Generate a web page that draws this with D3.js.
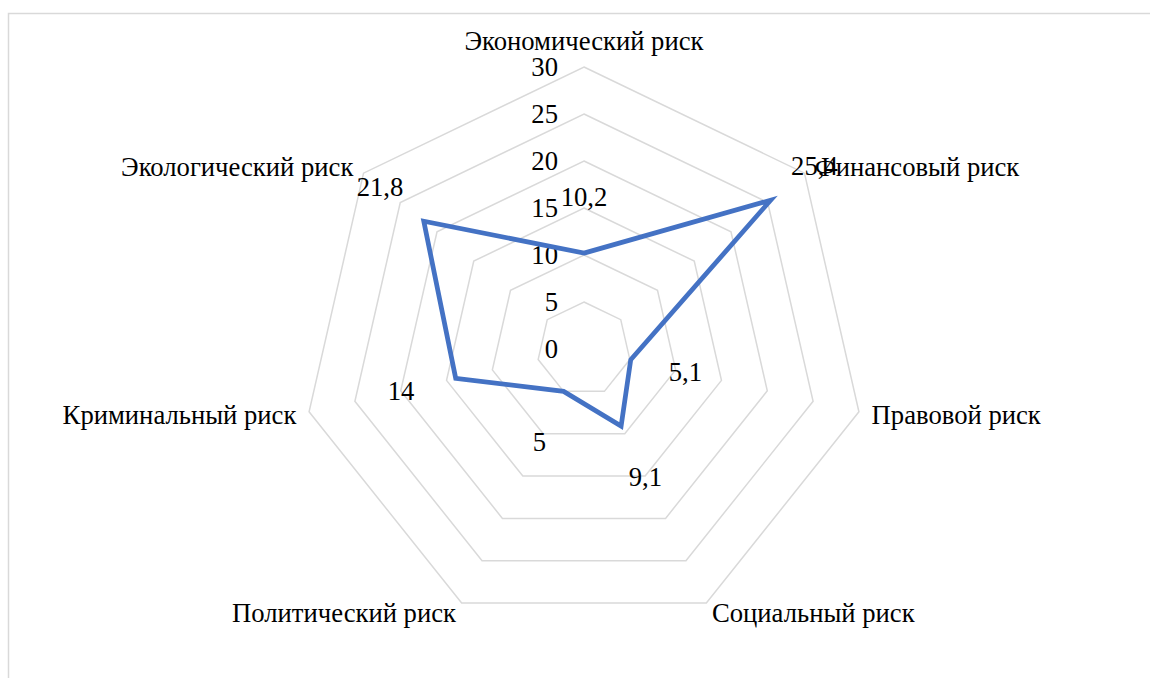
<!DOCTYPE html>
<html>
<head>
<meta charset="utf-8">
<script src="https://cdn.jsdelivr.net/npm/d3@7"></script>
<style>
  html, body { margin: 0; padding: 0; background: #fff; }
</style>
</head>
<body>
<svg id="chart" width="1150" height="678"></svg>
<script>
// Risk categories around the radar, clockwise from the top
const categories = [
  "Экономический риск",
  "Финансовый риск",
  "Правовой риск",
  "Социальный риск",
  "Политический риск",
  "Криминальный риск",
  "Экологический риск"
];
const values = [10.2, 25.4, 5.1, 9.1, 5, 14, 21.8];
const ticks = [0, 5, 10, 15, 20, 25, 30];

const FONT = "'Liberation Serif'";
const fontSize = 26.67;
const cx = 584, cy = 349, R = 282;

const svg = d3.select("#chart");

// Outer chart frame
svg.append("rect")
  .attr("x", 8.5).attr("y", 13.5)
  .attr("width", 1200).attr("height", 700)
  .attr("fill", "none").attr("stroke", "#d9d9d9").attr("stroke-width", 1.5);

const r = d3.scaleLinear().domain([0, 30]).range([0, R]);
const angle = d3.scalePoint().domain(d3.range(categories.length))
  .range([0, 2 * Math.PI * (categories.length - 1) / categories.length]);

const pt = (i, v) => {
  const a = angle(i);
  return [cx + r(v) * Math.sin(a), cy - r(v) * Math.cos(a)];
};

const g = svg.append("g");

// Heptagonal grid rings
ticks.filter(t => t > 0).forEach(t => {
  const ring = categories.map((_, i) => pt(i, t));
  g.append("path")
    .attr("d", d3.line().curve(d3.curveLinearClosed)(ring))
    .attr("fill", "none").attr("stroke", "#d9d9d9").attr("stroke-width", 1.5);
});

const label = sel => sel
  .attr("dy", "0.35em")
  .attr("font-size", fontSize)
  .style("font-family", FONT)
  .attr("fill", "#000");

// Tick labels along the top axis
g.selectAll(".tick").data(ticks).join("text")
  .attr("class", "tick")
  .attr("x", cx - 26)
  .attr("y", d => cy - r(d))
  .attr("text-anchor", "end")
  .call(label)
  .text(d => d);

// Data series
g.append("path")
  .attr("d", d3.line().curve(d3.curveLinearClosed)(values.map((v, i) => pt(i, v))))
  .attr("fill", "none")
  .attr("stroke", "#4472C4")
  .attr("stroke-width", 4.75)
  .attr("stroke-linejoin", "miter");

// Value labels, pushed outward from each point
const fmt = v => String(v).replace(".", ",");
const push = 56;
g.selectAll(".val").data(values).join("text")
  .attr("class", "val")
  .attr("x", (v, i) => pt(i, v)[0] + push * Math.sin(angle(i)))
  .attr("y", (v, i) => pt(i, v)[1] - push * Math.cos(angle(i)))
  .attr("text-anchor", "middle")
  .call(label)
  .text(fmt);

// Category labels just outside the outer vertices
g.selectAll(".cat").data(categories).join("text")
  .attr("class", "cat")
  .attr("x", (d, i) => pt(i, 30)[0] + 13 * Math.sin(angle(i)))
  .attr("y", (d, i) => {
    const c = Math.cos(angle(i));
    return pt(i, 30)[1] + (c > 0.9 ? -26 : -11 * c);
  })
  .attr("text-anchor", (d, i) => {
    const s = Math.sin(angle(i));
    return Math.abs(s) < 1e-6 ? "middle" : (s > 0 ? "start" : "end");
  })
  .call(label)
  .text(d => d);
</script>
</body>
</html>
